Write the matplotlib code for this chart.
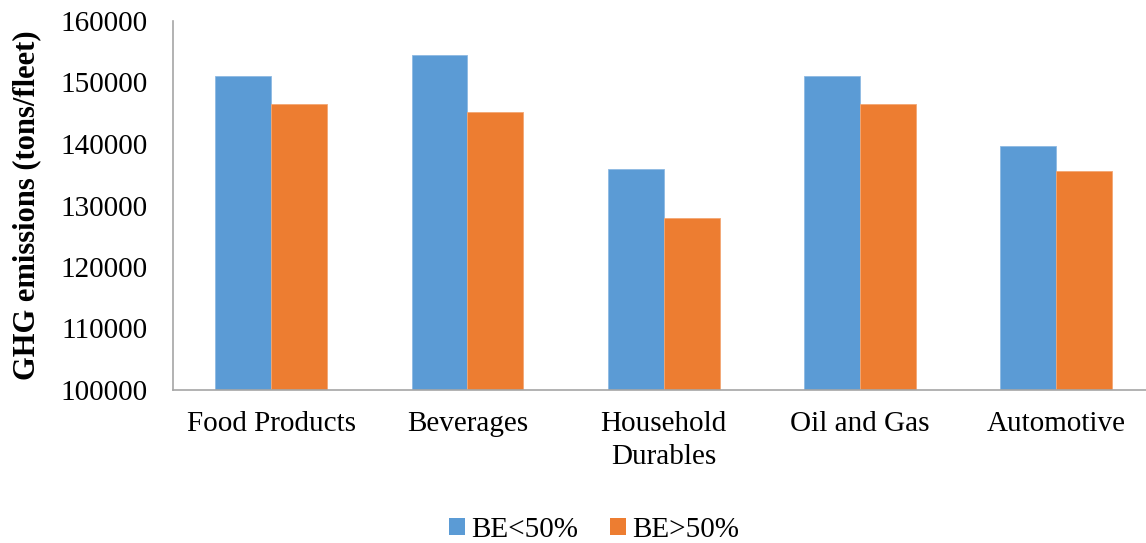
import matplotlib
matplotlib.use("Agg")
import matplotlib.pyplot as plt
import numpy as np
from matplotlib.patches import Patch

categories = ["Food Products", "Beverages", "Household\nDurables", "Oil and Gas", "Automotive"]
be_lt50 = [151000, 154500, 136000, 151000, 139600]
be_gt50 = [146450, 145200, 128000, 146450, 135550]
series_names = ["BE<50%", "BE>50%"]
yticks = [100000, 110000, 120000, 130000, 140000, 150000, 160000]

plt.rcParams['font.family'] = ['Liberation Serif', 'DejaVu Serif']

W, H = 1146, 543
fig = plt.figure(figsize=(W/100, H/100), dpi=100)
left, right, top, bottom = 173, 1154.5, 21, 390
ax = fig.add_axes([left/W, 1-bottom/H, (right-left)/W, (bottom-top)/H])

blue = "#5B9BD5"
orange = "#ED7D31"
x = np.arange(len(categories))
bw = 0.285
ax.bar(x - bw/2, be_lt50, bw, color=blue, edgecolor="#8DB9E3", linewidth=0.6)
ax.bar(x + bw/2, be_gt50, bw, color=orange, edgecolor="#F3A774", linewidth=0.6)

ax.set_xlim(-0.5, len(categories) - 0.5)
ax.set_ylim(100000, 160000)
ax.set_yticks(yticks)
ax.set_yticklabels([str(v) for v in yticks])
ax.set_xticks(x)
ax.set_xticklabels(categories, linespacing=1.35)
ax.tick_params(axis='y', length=0, pad=18.5, labelsize=21)
ax.tick_params(axis='x', length=0, pad=15, labelsize=21)
for s in ["top", "right"]:
    ax.spines[s].set_visible(False)
for s in ["left", "bottom"]:
    ax.spines[s].set_color("#A6A6A6")
    ax.spines[s].set_linewidth(1.2)

fig.text(27/W, 1 - 205/H, "GHG emissions (tons/fleet)", rotation=90, ha="center", va="center",
         fontsize=22, fontweight="bold")

handles = [Patch(facecolor=blue, edgecolor="none"), Patch(facecolor=orange, edgecolor="none")]
fig.legend(handles, series_names, loc="center", bbox_to_anchor=(594/W, 1 - 530/H), ncol=2,
           frameon=False, fontsize=21, handlelength=0.55, handleheight=0.55, handletextpad=0.2,
           columnspacing=1.1)

fig.savefig("out.png", dpi=100)
